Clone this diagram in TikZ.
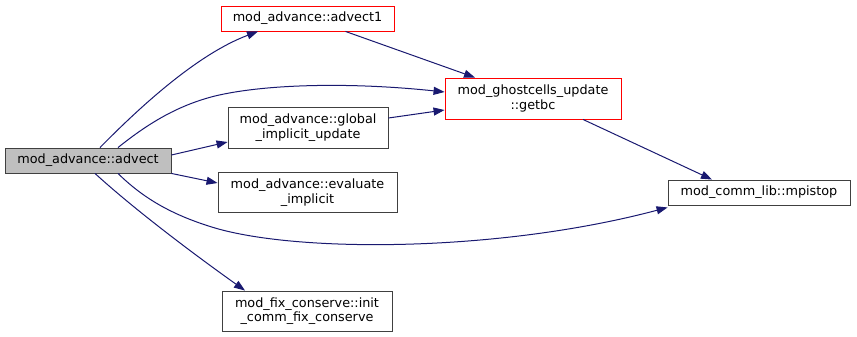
\documentclass[tikz,border=0pt]{standalone}
\usepackage{fontspec}
\setmainfont{DejaVu Sans}
\usepackage{tikz}
\usetikzlibrary{arrows.meta,calc}
\definecolor{edgeblue}{RGB}{25,25,112}
\definecolor{boxgray}{RGB}{191,191,191}
\definecolor{boxline}{RGB}{64,64,64}

\begin{document}
\begin{tikzpicture}[x=1pt,y=-1pt,
  every node/.style={font=\fontsize{12.8}{14.5}\selectfont,align=center,inner sep=0pt},
  fn/.style={draw=boxline,line width=0.9pt,fill=white,minimum height=25pt},
  fnred/.style={fn,draw=red},
  call/.style={draw=edgeblue,line width=1pt,-{Triangle[length=11pt,width=8pt]},fill=none}]
\useasboundingbox (0,0) rectangle (857,337);
% nodes
\node[fn,fill=boxgray,minimum width=166pt] (advect) at (88,160.5) {mod\_advance::advect};
\node[fnred,minimum width=173pt] (advect1) at (307.5,18.5) {mod\_advance::advect1};
\node[fnred,minimum width=176pt,minimum height=41pt] (getbc) at (533,98.5) {mod\_ghostcells\_update\\::getbc};
\node[fn,minimum width=160pt,minimum height=41pt] (glob) at (308,127.5) {mod\_advance::global\\\_implicit\_update};
\node[fn,minimum width=179pt,minimum height=40pt] (evalimp) at (307.5,192.5) {mod\_advance::evaluate\\\_implicit};
\node[fn,minimum width=182pt] (mpistop) at (759,192.5) {mod\_comm\_lib::mpistop};
\node[fn,minimum width=170pt,minimum height=40pt] (initfix) at (307,311) {mod\_fix\_conserve::init\\\_comm\_fix\_conserve};
% calls
\draw[call] ([xshift=12pt]advect.north) .. controls (135,112) and (195,55) .. ([xshift=-49.5pt]advect1.south);
\draw[call] ([xshift=30pt]advect.north) .. controls (145,126) and (175,106) .. (215,96) .. controls (265,84) and (350,82) .. ([yshift=6.5pt]getbc.west);
\draw[call] ([yshift=5.5pt]advect.east) -- ([yshift=-14.5pt]glob.west);
\draw[call] (advect.south east) -- ([yshift=9.5pt]evalimp.west);
\draw[call] ([xshift=30pt]advect.south) .. controls (145,200) and (175,216) .. (215,228) .. controls (300,253) and (500,252) .. ([yshift=-2pt]mpistop.south west);
\draw[call] ([xshift=7pt]advect.south) .. controls (135,210) and (195,255) .. ([xshift=-62pt]initfix.north);
\draw[call] ([xshift=38pt]advect1.south) -- ([xshift=-58pt]getbc.north);
\draw[call] ([yshift=9.5pt]glob.east) -- ([yshift=-11.5pt]getbc.west);
\draw[call] ([xshift=50pt]getbc.south) -- ([xshift=-47pt]mpistop.north);
\end{tikzpicture}
\end{document}
